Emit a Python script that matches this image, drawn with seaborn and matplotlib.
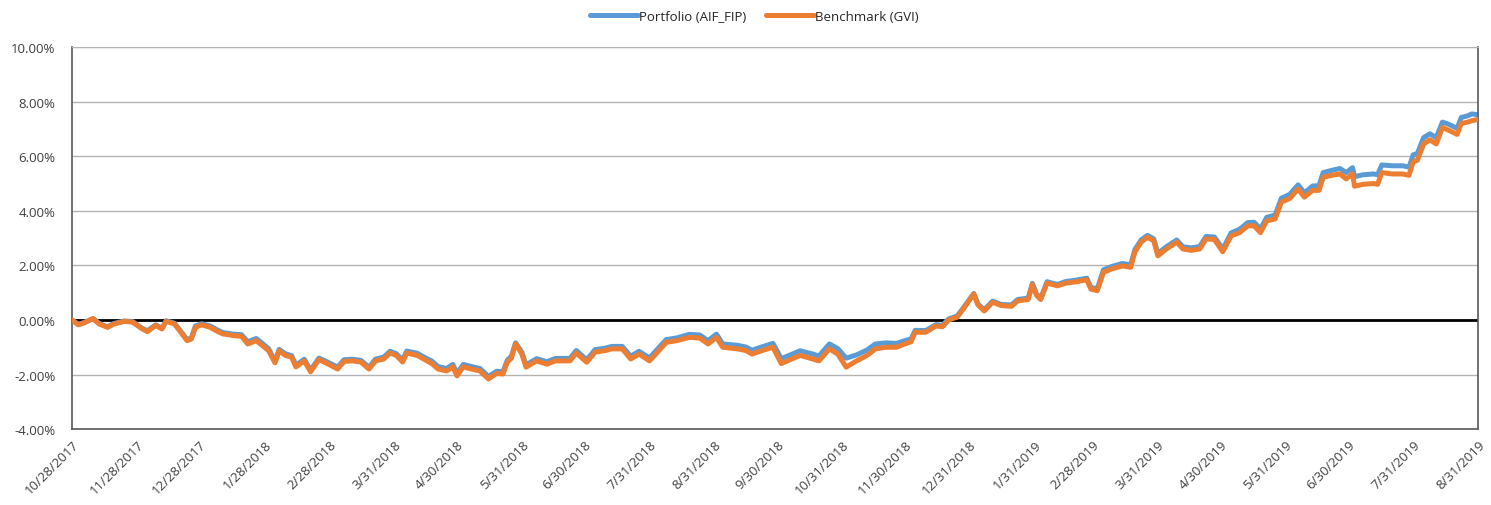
import pandas as pd
import matplotlib
matplotlib.use('Agg')
import matplotlib.pyplot as plt
import seaborn as sns

# cumulative return (%)
dates = ['2017-10-28', '2017-10-31', '2017-11-03', '2017-11-07', '2017-11-10', '2017-11-14',
         '2017-11-17', '2017-11-22', '2017-11-26', '2017-11-30', '2017-12-03', '2017-12-07',
         '2017-12-10', '2017-12-12', '2017-12-16', '2017-12-19', '2017-12-22', '2017-12-24',
         '2017-12-26', '2017-12-29', '2018-01-02', '2018-01-05', '2018-01-08', '2018-01-13',
         '2018-01-17', '2018-01-20', '2018-01-24', '2018-01-27', '2018-01-30', '2018-02-02',
         '2018-02-04', '2018-02-07', '2018-02-10', '2018-02-12', '2018-02-16', '2018-02-19',
         '2018-02-23', '2018-02-27', '2018-03-04', '2018-03-07', '2018-03-11', '2018-03-15',
         '2018-03-19', '2018-03-22', '2018-03-26', '2018-03-29', '2018-04-01', '2018-04-04',
         '2018-04-06', '2018-04-11', '2018-04-14', '2018-04-18', '2018-04-21', '2018-04-25',
         '2018-04-28', '2018-04-30', '2018-05-03', '2018-05-07', '2018-05-11', '2018-05-15',
         '2018-05-19', '2018-05-22', '2018-05-24', '2018-05-26', '2018-05-28', '2018-05-31',
         '2018-06-02', '2018-06-07', '2018-06-12', '2018-06-16', '2018-06-23', '2018-06-26',
         '2018-07-01', '2018-07-05', '2018-07-10', '2018-07-13', '2018-07-18', '2018-07-22',
         '2018-07-26', '2018-07-31', '2018-08-03', '2018-08-08', '2018-08-13', '2018-08-19',
         '2018-08-24', '2018-08-28', '2018-09-01', '2018-09-04', '2018-09-11', '2018-09-15',
         '2018-09-18', '2018-09-23', '2018-09-28', '2018-10-02', '2018-10-07', '2018-10-11',
         '2018-10-17', '2018-10-20', '2018-10-25', '2018-10-29', '2018-11-02', '2018-11-07',
         '2018-11-12', '2018-11-16', '2018-11-21', '2018-11-26', '2018-11-30', '2018-12-03',
         '2018-12-05', '2018-12-10', '2018-12-15', '2018-12-18', '2018-12-21', '2018-12-25',
         '2018-12-28', '2019-01-02', '2019-01-04', '2019-01-07', '2019-01-11', '2019-01-15',
         '2019-01-20', '2019-01-23', '2019-01-28', '2019-01-30', '2019-02-01', '2019-02-03',
         '2019-02-06', '2019-02-11', '2019-02-15', '2019-02-20', '2019-02-25', '2019-02-27',
         '2019-03-02', '2019-03-05', '2019-03-09', '2019-03-14', '2019-03-18', '2019-03-20',
         '2019-03-23', '2019-03-26', '2019-03-29', '2019-03-31', '2019-04-04', '2019-04-09',
         '2019-04-12', '2019-04-16', '2019-04-20', '2019-04-23', '2019-04-27', '2019-05-01',
         '2019-05-05', '2019-05-09', '2019-05-13', '2019-05-16', '2019-05-19', '2019-05-22',
         '2019-05-26', '2019-05-29', '2019-06-02', '2019-06-06', '2019-06-09', '2019-06-13',
         '2019-06-16', '2019-06-18', '2019-06-22', '2019-06-26', '2019-06-29', '2019-07-02',
         '2019-07-03', '2019-07-07', '2019-07-12', '2019-07-14', '2019-07-16', '2019-07-21',
         '2019-07-26', '2019-07-29', '2019-07-31', '2019-08-02', '2019-08-05', '2019-08-08',
         '2019-08-11', '2019-08-14', '2019-08-17', '2019-08-21', '2019-08-23', '2019-08-26',
         '2019-08-28', '2019-08-31']

portfolio = [0.00, -0.16, -0.09, 0.05, -0.13, -0.25,
             -0.13, -0.04, -0.06, -0.28, -0.40, -0.18,
             -0.30, -0.03, -0.12, -0.42, -0.72, -0.66,
             -0.22, -0.14, -0.22, -0.35, -0.46, -0.52,
             -0.54, -0.80, -0.68, -0.86, -1.06, -1.52,
             -1.08, -1.24, -1.31, -1.66, -1.44, -1.84,
             -1.40, -1.54, -1.73, -1.46, -1.44, -1.48,
             -1.73, -1.44, -1.36, -1.15, -1.24, -1.47,
             -1.14, -1.22, -1.35, -1.51, -1.71, -1.78,
             -1.63, -1.96, -1.63, -1.71, -1.78, -2.07,
             -1.88, -1.90, -1.48, -1.33, -0.84, -1.18,
             -1.65, -1.42, -1.53, -1.41, -1.41, -1.12,
             -1.46, -1.09, -1.03, -0.97, -0.97, -1.33,
             -1.15, -1.39, -1.14, -0.72, -0.66, -0.53,
             -0.55, -0.76, -0.52, -0.88, -0.93, -0.99,
             -1.11, -0.98, -0.86, -1.42, -1.26, -1.13,
             -1.25, -1.32, -0.88, -1.05, -1.40, -1.28,
             -1.10, -0.88, -0.84, -0.86, -0.76, -0.70,
             -0.38, -0.39, -0.17, -0.20, 0.04, 0.14,
             0.44, 0.97, 0.58, 0.37, 0.69, 0.57,
             0.55, 0.75, 0.80, 1.34, 0.95, 0.80,
             1.40, 1.30, 1.41, 1.46, 1.53, 1.19,
             1.14, 1.84, 1.96, 2.07, 2.02, 2.58,
             2.93, 3.10, 2.97, 2.44, 2.68, 2.93,
             2.68, 2.64, 2.69, 3.06, 3.04, 2.60,
             3.19, 3.32, 3.57, 3.58, 3.33, 3.76,
             3.84, 4.46, 4.60, 4.95, 4.66, 4.91,
             4.92, 5.40, 5.48, 5.55, 5.40, 5.58,
             5.25, 5.32, 5.35, 5.32, 5.68, 5.65,
             5.65, 5.60, 6.05, 6.10, 6.68, 6.82,
             6.68, 7.25, 7.17, 7.02, 7.42, 7.48,
             7.55, 7.52]

benchmark = [0.00, -0.18, -0.10, 0.05, -0.15, -0.27,
             -0.15, -0.05, -0.08, -0.30, -0.43, -0.20,
             -0.33, -0.05, -0.15, -0.45, -0.76, -0.70,
             -0.27, -0.18, -0.27, -0.40, -0.51, -0.57,
             -0.60, -0.88, -0.76, -0.94, -1.13, -1.57,
             -1.13, -1.30, -1.37, -1.72, -1.50, -1.90,
             -1.45, -1.60, -1.80, -1.52, -1.50, -1.54,
             -1.80, -1.50, -1.43, -1.21, -1.30, -1.54,
             -1.21, -1.30, -1.43, -1.60, -1.80, -1.87,
             -1.72, -2.05, -1.72, -1.80, -1.87, -2.16,
             -1.96, -1.98, -1.55, -1.40, -0.88, -1.25,
             -1.73, -1.50, -1.62, -1.50, -1.50, -1.21,
             -1.55, -1.18, -1.12, -1.06, -1.06, -1.43,
             -1.25, -1.50, -1.25, -0.82, -0.76, -0.64,
             -0.66, -0.88, -0.64, -1.00, -1.06, -1.12,
             -1.25, -1.12, -1.00, -1.60, -1.43, -1.30,
             -1.43, -1.50, -1.06, -1.25, -1.73, -1.50,
             -1.30, -1.06, -1.00, -1.00, -0.88, -0.80,
             -0.45, -0.45, -0.22, -0.25, 0.00, 0.10,
             0.40, 0.95, 0.55, 0.33, 0.65, 0.53,
             0.50, 0.70, 0.75, 1.30, 0.90, 0.75,
             1.35, 1.25, 1.35, 1.40, 1.47, 1.13,
             1.07, 1.75, 1.87, 1.98, 1.93, 2.50,
             2.85, 3.03, 2.90, 2.35, 2.60, 2.85,
             2.60, 2.55, 2.60, 2.97, 2.95, 2.50,
             3.08, 3.20, 3.45, 3.45, 3.20, 3.63,
             3.70, 4.32, 4.45, 4.80, 4.50, 4.75,
             4.75, 5.23, 5.30, 5.35, 5.17, 5.35,
             4.90, 4.97, 5.00, 4.97, 5.40, 5.35,
             5.35, 5.30, 5.80, 5.85, 6.45, 6.60,
             6.45, 7.05, 6.95, 6.80, 7.20, 7.25,
             7.30, 7.35]

tick_labels = ['10/28/2017', '11/28/2017', '12/28/2017', '1/28/2018', '2/28/2018',
               '3/31/2018', '4/30/2018', '5/31/2018', '6/30/2018', '7/31/2018',
               '8/31/2018', '9/30/2018', '10/31/2018', '11/30/2018', '12/31/2018',
               '1/31/2019', '2/28/2019', '3/31/2019', '4/30/2019', '5/31/2019',
               '6/30/2019', '7/31/2019', '8/31/2019']
y_ticks = [-4, -2, 0, 2, 4, 6, 8, 10]

df = pd.DataFrame({'date': pd.to_datetime(dates),
                   'Portfolio (AIF_FIP)': portfolio,
                   'Benchmark (GVI)': benchmark})

sns.set_style('white')
plt.rcParams['font.family'] = ['Open Sans', 'DejaVu Sans']

fig = plt.figure(figsize=(14.91, 5.06), dpi=100)
ax = fig.add_axes([0.0483, 0.150, 0.9430, 0.755])

# gridlines + black zero line
for v in y_ticks:
    if v == 0:
        continue
    ax.axhline(v, color='#b3b3b3', lw=1, zorder=0)
ax.axhline(0, color='black', lw=2, zorder=1)

# Draw the two series
sns.lineplot(data=df, x='date', y='Portfolio (AIF_FIP)', ax=ax, color='#5b9bd5',
             lw=3.6, label='Portfolio (AIF_FIP)', zorder=2)
sns.lineplot(data=df, x='date', y='Benchmark (GVI)', ax=ax, color='#ed7d31',
             lw=3.6, label='Benchmark (GVI)', zorder=3)

ax.set_xlim(pd.Timestamp('2017-10-28'), pd.Timestamp('2019-08-31'))
ax.set_ylim(-4, 10)
ax.set_yticks(y_ticks)
ax.set_yticklabels([f'{v:.2f}%' for v in y_ticks], fontsize=9.5, color='#404040')

tick_pos = pd.to_datetime(tick_labels, format='%m/%d/%Y')
ax.set_xticks(tick_pos)
ax.set_xticklabels(tick_labels, rotation=45, ha='right', rotation_mode='anchor',
                   fontsize=9.5, color='#404040')
ax.tick_params(axis='x', length=0, pad=6)
ax.tick_params(axis='y', length=0, pad=12)
ax.set_xlabel('')
ax.set_ylabel('')

for side in ['left', 'bottom', 'right']:
    ax.spines[side].set_color('#595959')
    ax.spines[side].set_linewidth(1.2)
ax.spines['top'].set_color('#b3b3b3')

ax.legend(loc='center', bbox_to_anchor=(0.506, 0.966), bbox_transform=fig.transFigure,
          ncol=2, frameon=False, fontsize=9.5, handlelength=3.6, handletextpad=0.1,
          columnspacing=1.5)

plt.savefig('out.png', dpi=100)
